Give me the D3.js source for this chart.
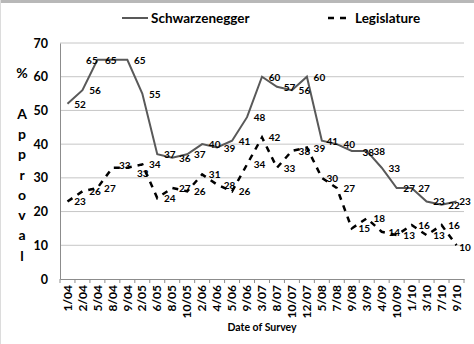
<!DOCTYPE html>
<html>
<head>
<meta charset="utf-8">
<script src="https://cdn.jsdelivr.net/npm/d3@7"></script>
<style>
  body { margin: 0; background: #fff; }
  svg text { font-family: Lato, "Liberation Sans", sans-serif; font-weight: bold; fill: #000; }
</style>
</head>
<body>
<div id="chart"></div>
<script>
// --- Data ---
const surveyDates = ["1/04", "2/04", "5/04", "8/04", "9/04", "2/05", "6/05", "8/05", "10/05",
    "2/06", "4/06", "5/06", "9/06", "3/07", "8/07", "10/07", "12/07", "5/08", "7/08", "9/08",
    "3/09", "4/09", "10/09", "1/10", "3/10", "7/10", "9/10"];
const schwarzenegger = [52, 56, 65, 65, 65, 55, 37, 36, 37, 40, 39, 41, 48, 60, 57, 56, 60,
    41, 40, 38, 38, 33, 27, 27, 23, 22, 23];
const legislature = [23, 26, 27, 33, 33, 34, 24, 27, 26, 31, 28, 26, 34, 42, 33, 38, 39,
    30, 27, 15, 18, 14, 13, 16, 13, 16, 10];
const yTicks = [0, 10, 20, 30, 40, 50, 60, 70];
const seriesNames = ["Schwarzenegger", "Legislature"];

// label nudges (index -> [dx, dy]) where the original labels were dragged off the default spot
const schwNudge = { 2: [-18, 0], 3: [-14, 0], 17: [-2, 0], 19: [4, 1], 26: [-4, 0] };
const legNudge = { 3: [0, -3], 4: [3, 5], 17: [-2, 0], 26: [-4, 2] };

const W = 474, H = 344;
const plot = { left: 60, right: 464, top: 43, bottom: 279 };

const svg = d3.select("#chart").append("svg")
    .attr("width", W)
    .attr("height", H);

// chart frame: grey band on top, faint edge on the left
svg.append("rect")
    .attr("x", 0).attr("y", 0)
    .attr("width", W).attr("height", 3)
    .attr("fill", "#b8b8b8");
svg.append("line")
    .attr("x1", 0.5).attr("x2", 0.5)
    .attr("y1", 0).attr("y2", H)
    .attr("stroke", "#dcdcdc");

const x = d3.scaleBand()
    .domain(surveyDates)
    .range([plot.left, plot.right]);

const y = d3.scaleLinear()
    .domain([0, 70])
    .range([plot.bottom, plot.top]);

const cx = d => x(d) + x.bandwidth() / 2;

// --- grid lines ---
svg.append("g")
    .selectAll("line")
    .data(yTicks.filter(t => t > 0))
    .join("line")
    .attr("x1", plot.left).attr("x2", plot.right)
    .attr("y1", d => y(d)).attr("y2", d => y(d))
    .attr("stroke", "#c6c6c6")
    .attr("stroke-width", 1);

// --- Y axis ---
const yAxis = svg.append("g")
    .attr("transform", `translate(${plot.left},0)`)
    .call(d3.axisLeft(y).tickValues(yTicks).tickSize(0).tickPadding(12));
yAxis.select(".domain").attr("stroke", "#8c8c8c");
yAxis.selectAll("text")
    .style("font-size", "12.5px");

// --- X axis ---
const xAxis = svg.append("g")
    .attr("transform", `translate(0,${plot.bottom})`)
    .call(d3.axisBottom(x).tickSize(0).tickPadding(0));
xAxis.select(".domain").attr("stroke", "#8c8c8c");
xAxis.selectAll("text")
    .style("font-size", "12px")
    .attr("transform", "rotate(-90)")
    .attr("x", -6)
    .attr("y", 0)
    .attr("dy", "0.35em")
    .style("text-anchor", "end");

// tick marks at category boundaries
svg.append("g")
    .selectAll("line")
    .data(surveyDates.concat(["__end"]))
    .join("line")
    .attr("x1", d => d === "__end" ? plot.right : x(d))
    .attr("x2", d => d === "__end" ? plot.right : x(d))
    .attr("y1", plot.bottom)
    .attr("y2", plot.bottom + 4)
    .attr("stroke", "#8c8c8c");

// --- lines ---
const line = d3.line()
    .x((d, i) => cx(surveyDates[i]))
    .y(d => y(d));

svg.append("path")
    .datum(schwarzenegger)
    .attr("fill", "none")
    .attr("stroke", "#595959")
    .attr("stroke-width", 2)
    .attr("d", line);

svg.append("path")
    .datum(legislature)
    .attr("fill", "none")
    .attr("stroke", "#000")
    .attr("stroke-width", 2.5)
    .attr("stroke-dasharray", "6,6")
    .attr("d", line);

// --- data labels ---
function addLabels(values, nudge) {
    svg.append("g")
        .selectAll("text")
        .data(values)
        .join("text")
        .attr("x", (d, i) => cx(surveyDates[i]) + 12.5 + (nudge[i] ? nudge[i][0] : 0))
        .attr("y", (d, i) => y(d) + 4 + (nudge[i] ? nudge[i][1] : 0))
        .attr("text-anchor", "middle")
        .style("font-size", "10px")
        .text(d => d);
}
addLabels(schwarzenegger, schwNudge);
addLabels(legislature, legNudge);

// --- axis titles ---
const yTitle = ["%", "", "A", "p", "p", "r", "o", "v", "a", "l"];
svg.append("g")
    .selectAll("text")
    .data(yTitle)
    .join("text")
    .attr("x", 22)
    .attr("y", (d, i) => 78 + i * 20.3)
    .attr("text-anchor", "middle")
    .style("font-size", "14px")
    .text(d => d);

svg.append("text")
    .attr("x", (plot.left + plot.right) / 2)
    .attr("y", 331)
    .attr("text-anchor", "middle")
    .style("font-size", "10.5px")
    .text("Date of Survey");

// --- legend ---
const legend = svg.append("g");
const legendItems = [
    { name: seriesNames[0], x1: 122, x2: 148, tx: 151, dash: null, color: "#595959", w: 2 },
    { name: seriesNames[1], x1: 328, x2: 347, tx: 355, dash: "6,6", color: "#000", w: 2.5 }
];
legendItems.forEach(it => {
    legend.append("line")
        .attr("x1", it.x1).attr("x2", it.x2)
        .attr("y1", 18).attr("y2", 18)
        .attr("stroke", it.color)
        .attr("stroke-width", it.w)
        .attr("stroke-dasharray", it.dash);
    legend.append("text")
        .attr("x", it.tx)
        .attr("y", 23)
        .style("font-size", "13.5px")
        .text(it.name);
});
</script>
</body>
</html>
